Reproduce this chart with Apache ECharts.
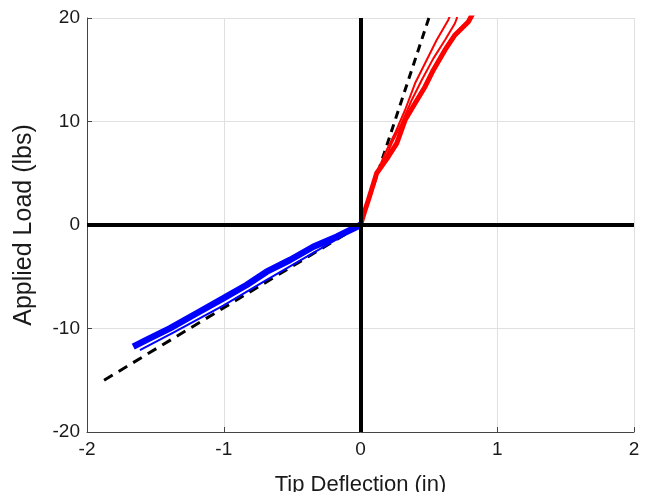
<!DOCTYPE html>
<html>
<head>
<meta charset="utf-8">
<script src="https://cdn.jsdelivr.net/npm/echarts@6/dist/echarts.min.js"></script>
<style>
  html, body { margin: 0; padding: 0; background: #fff; }
  #chart { width: 651px; height: 492px; }
</style>
</head>
<body>
<div id="chart"></div>
<script>
// axis ranges and ticks
var xTicks = [-2, -1, 0, 1, 2];
var yTicks = [-20, -10, 0, 10, 20];

// red curves (positive load)
var redThick = [[0, 0], [0.03, 1.3], [0.057, 2.4], [0.09, 3.8], [0.118, 5.0], [0.203, 6.6], [0.265, 7.89],
  [0.326, 10.14], [0.399, 11.76], [0.472, 13.36], [0.533, 14.98], [0.618, 16.91], [0.691, 18.36],
  [0.789, 19.64], [0.82, 20.4]];
var redThinA = [[0, 0], [0.03, 1.3], [0.057, 2.4], [0.09, 3.8], [0.118, 5.0], [0.192, 7.25], [0.252, 8.86],
  [0.326, 11.11], [0.399, 13.69], [0.484, 15.94], [0.557, 17.87], [0.642, 19.81], [0.66, 20.4]];
var redThinB = [[0, 0], [0.03, 1.3], [0.057, 2.4], [0.09, 3.8], [0.118, 5.0], [0.143, 5.31], [0.228, 7.89],
  [0.301, 9.83], [0.375, 12.08], [0.448, 14.01], [0.533, 16.1], [0.618, 17.87], [0.691, 19.49],
  [0.704, 19.97], [0.71, 20.4]];

// blue curves (negative load)
var blueThick = [[-1.662, -11.76], [-1.55, -11.0], [-1.394, -9.98], [-1.198, -8.53], [-1.004, -7.09],
  [-0.833, -5.8], [-0.686, -4.51], [-0.516, -3.38], [-0.345, -2.1], [-0.174, -1.13], [0, 0]];
var blueThin = [[-1.613, -12.1], [-1.369, -10.4], [-1.004, -7.8], [-0.686, -5.3], [-0.345, -2.7], [-0.1, -0.8], [0, 0]];

// linear fits (dashed)
var fitNeg = [[-1.875, -15], [0, 0]];
var fitPos = [[0, 0], [0.5, 20]];

var chart = echarts.init(document.getElementById('chart'));

var font = 'Liberation Sans, Arial, sans-serif';
var gridColor = '#e0e0e0';
var axisColor = '#444';
var textColor = '#1a1a1a';

var option = {
  animation: false,
  backgroundColor: '#fff',
  grid: { left: 87, right: 17, top: 18, bottom: 60, outerBoundsMode: 'none' },
  xAxis: {
    type: 'value',
    min: xTicks[0],
    max: xTicks[xTicks.length - 1],
    interval: 1,
    name: 'Tip Deflection (in)',
    nameLocation: 'middle',
    nameGap: 42,
    nameTextStyle: { fontFamily: font, fontSize: 22, color: textColor },
    axisLine: { onZero: false, lineStyle: { color: axisColor, width: 1 } },
    axisTick: { inside: true, length: 5, lineStyle: { color: axisColor } },
    axisLabel: { fontFamily: font, fontSize: 19, color: textColor, margin: 8 },
    splitLine: { show: true, lineStyle: { color: gridColor, width: 1 } }
  },
  yAxis: {
    type: 'value',
    min: yTicks[0],
    max: yTicks[yTicks.length - 1],
    interval: 10,
    name: 'Applied Load (lbs)',
    nameLocation: 'middle',
    nameGap: 50,
    nameTextStyle: { fontFamily: font, fontSize: 25, color: textColor },
    axisLine: { show: true, onZero: false, lineStyle: { color: axisColor, width: 1 } },
    axisTick: { show: true, inside: true, length: 5, lineStyle: { color: axisColor } },
    axisLabel: { fontFamily: font, fontSize: 19, color: textColor, margin: 7 },
    splitLine: { show: true, lineStyle: { color: gridColor, width: 1 } }
  },
  series: [
    { // 零线
      type: 'line',
      data: [],
      z: 1,
      markLine: {
        silent: true,
        symbol: 'none',
        label: { show: false },
        lineStyle: { color: '#000', width: 4, type: 'solid' },
        data: [{ xAxis: 0 }, { yAxis: 0 }]
      }
    },
    { type: 'line', data: redThick, showSymbol: false, lineStyle: { color: '#ff0000', width: 5 }, z: 3 },
    { type: 'line', data: redThinA, showSymbol: false, lineStyle: { color: '#ff0000', width: 2 }, z: 3 },
    { type: 'line', data: redThinB, showSymbol: false, lineStyle: { color: '#ff0000', width: 2 }, z: 3 },
    { type: 'line', data: blueThick, showSymbol: false, lineStyle: { color: '#0000ff', width: 6.5 }, z: 3 },
    { type: 'line', data: blueThin, showSymbol: false, lineStyle: { color: '#0000ff', width: 2 }, z: 3 },
    { type: 'line', data: fitNeg, showSymbol: false, lineStyle: { color: '#000', width: 3, type: [10, 7] }, z: 2 },
    { type: 'line', data: fitPos, showSymbol: false, lineStyle: { color: '#000', width: 3, type: [8, 6] }, z: 2 }
  ]
};

chart.setOption(option);
</script>
</body>
</html>
